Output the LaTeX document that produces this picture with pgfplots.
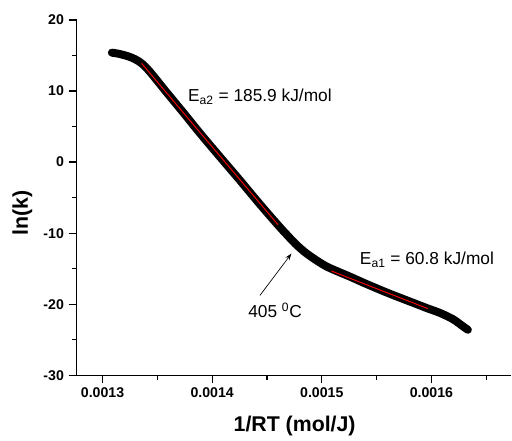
\documentclass[border=0pt]{standalone}
\usepackage{fontspec}
\setmainfont{Liberation Sans}
\usepackage{pgfplots}
\pgfplotsset{compat=1.18}
\usetikzlibrary{arrows.meta}

\begin{document}
\begin{tikzpicture}
\begin{axis}[
    scale only axis,
    width=326.5pt, height=266.8pt,
    xmin=0.0012763, xmax=0.001673,
    ymin=-30, ymax=20,
    axis lines*=left,
    axis line style={line width=0.9pt},
    tick align=outside,
    major tick length=6pt, minor tick length=3.5pt,
    every tick/.style={black, line width=0.9pt},
    xtick={0.0013,0.0014,0.0015,0.0016},
    xticklabels={0.0013,0.0014,0.0015,0.0016},
    minor xtick={0.00135,0.00145,0.00155,0.00165},
    ytick={-30,-20,-10,0,10,20},
    yticklabels={-30,-20,-10,0,10,20},
    minor ytick={-25,-15,-5,5,15},
    scaled x ticks=false,
    ticklabel style={font=\fontsize{10.6}{12}\selectfont\bfseries},
    xlabel={1/RT (mol/J)},
    ylabel={ln(k)},
    xlabel style={font=\fontsize{16}{18}\selectfont\bfseries,
        at={(axis description cs:0.5015,-0.1574)}, anchor=base},
    ylabel style={font=\fontsize{16}{18}\selectfont\bfseries,
        at={(axis description cs:-0.1245,0.4574)}, anchor=center},
    clip=false,
]
% measured ln(k) curve
\addplot[black, line width=6pt, line cap=round, line join=round, smooth, tension=0.55] coordinates {
    (0.0013085, 15.4) (0.0013160, 15.2) (0.0013240, 14.85) (0.0013300, 14.45)
    (0.0013360, 13.85) (0.0013430, 12.75) (0.0013580, 9.9) (0.0013735, 7.0)
    (0.0013887, 4.1) (0.0014040, 1.3) (0.0014145, -0.6) (0.0014250, -2.5)
    (0.0014434, -5.9) (0.0014600, -8.85) (0.0014680, -10.2) (0.0014760, -11.5)
    (0.0014840, -12.6) (0.0014920, -13.5) (0.0015000, -14.3) (0.0015072, -14.9)
    (0.0015254, -16.1) (0.0015400, -17.1) (0.0015600, -18.4) (0.0015800, -19.6)
    (0.0015968, -20.6) (0.0016075, -21.2) (0.0016196, -22.1) (0.0016287, -23.1)
    (0.0016333, -23.6)
};
% linear fits
\addplot[red, line width=0.7pt] coordinates {(0.0013356, 13.9) (0.0014600, -8.8)};
\addplot[red, line width=0.7pt] coordinates {(0.0015088, -15.33) (0.0015968, -20.62)};

\node[anchor=base west, inner sep=0pt, font=\fontsize{13}{15}\selectfont]
    at (axis cs:0.0013778, 8.58) {E\textsubscript{a2} = 185.9 kJ/mol};
\node[anchor=base west, inner sep=0pt, font=\fontsize{13}{15}\selectfont]
    at (axis cs:0.0015346, -14.39) {E\textsubscript{a1} = 60.8 kJ/mol};
\node[anchor=base west, inner sep=0pt, font=\fontsize{13}{15}\selectfont]
    at (axis cs:0.0014327, -21.88) {405 \textsuperscript{0}C};
\draw[-{Stealth[length=5pt,width=3.5pt]}, line width=0.5pt]
    (axis cs:0.0014436, -18.76) -- (axis cs:0.0014723, -12.88);
\end{axis}
\path ([xshift=-57.5pt,yshift=-43.7pt]current axis.south west)
    rectangle ([yshift=15pt]current axis.north east);
\end{tikzpicture}
\end{document}
